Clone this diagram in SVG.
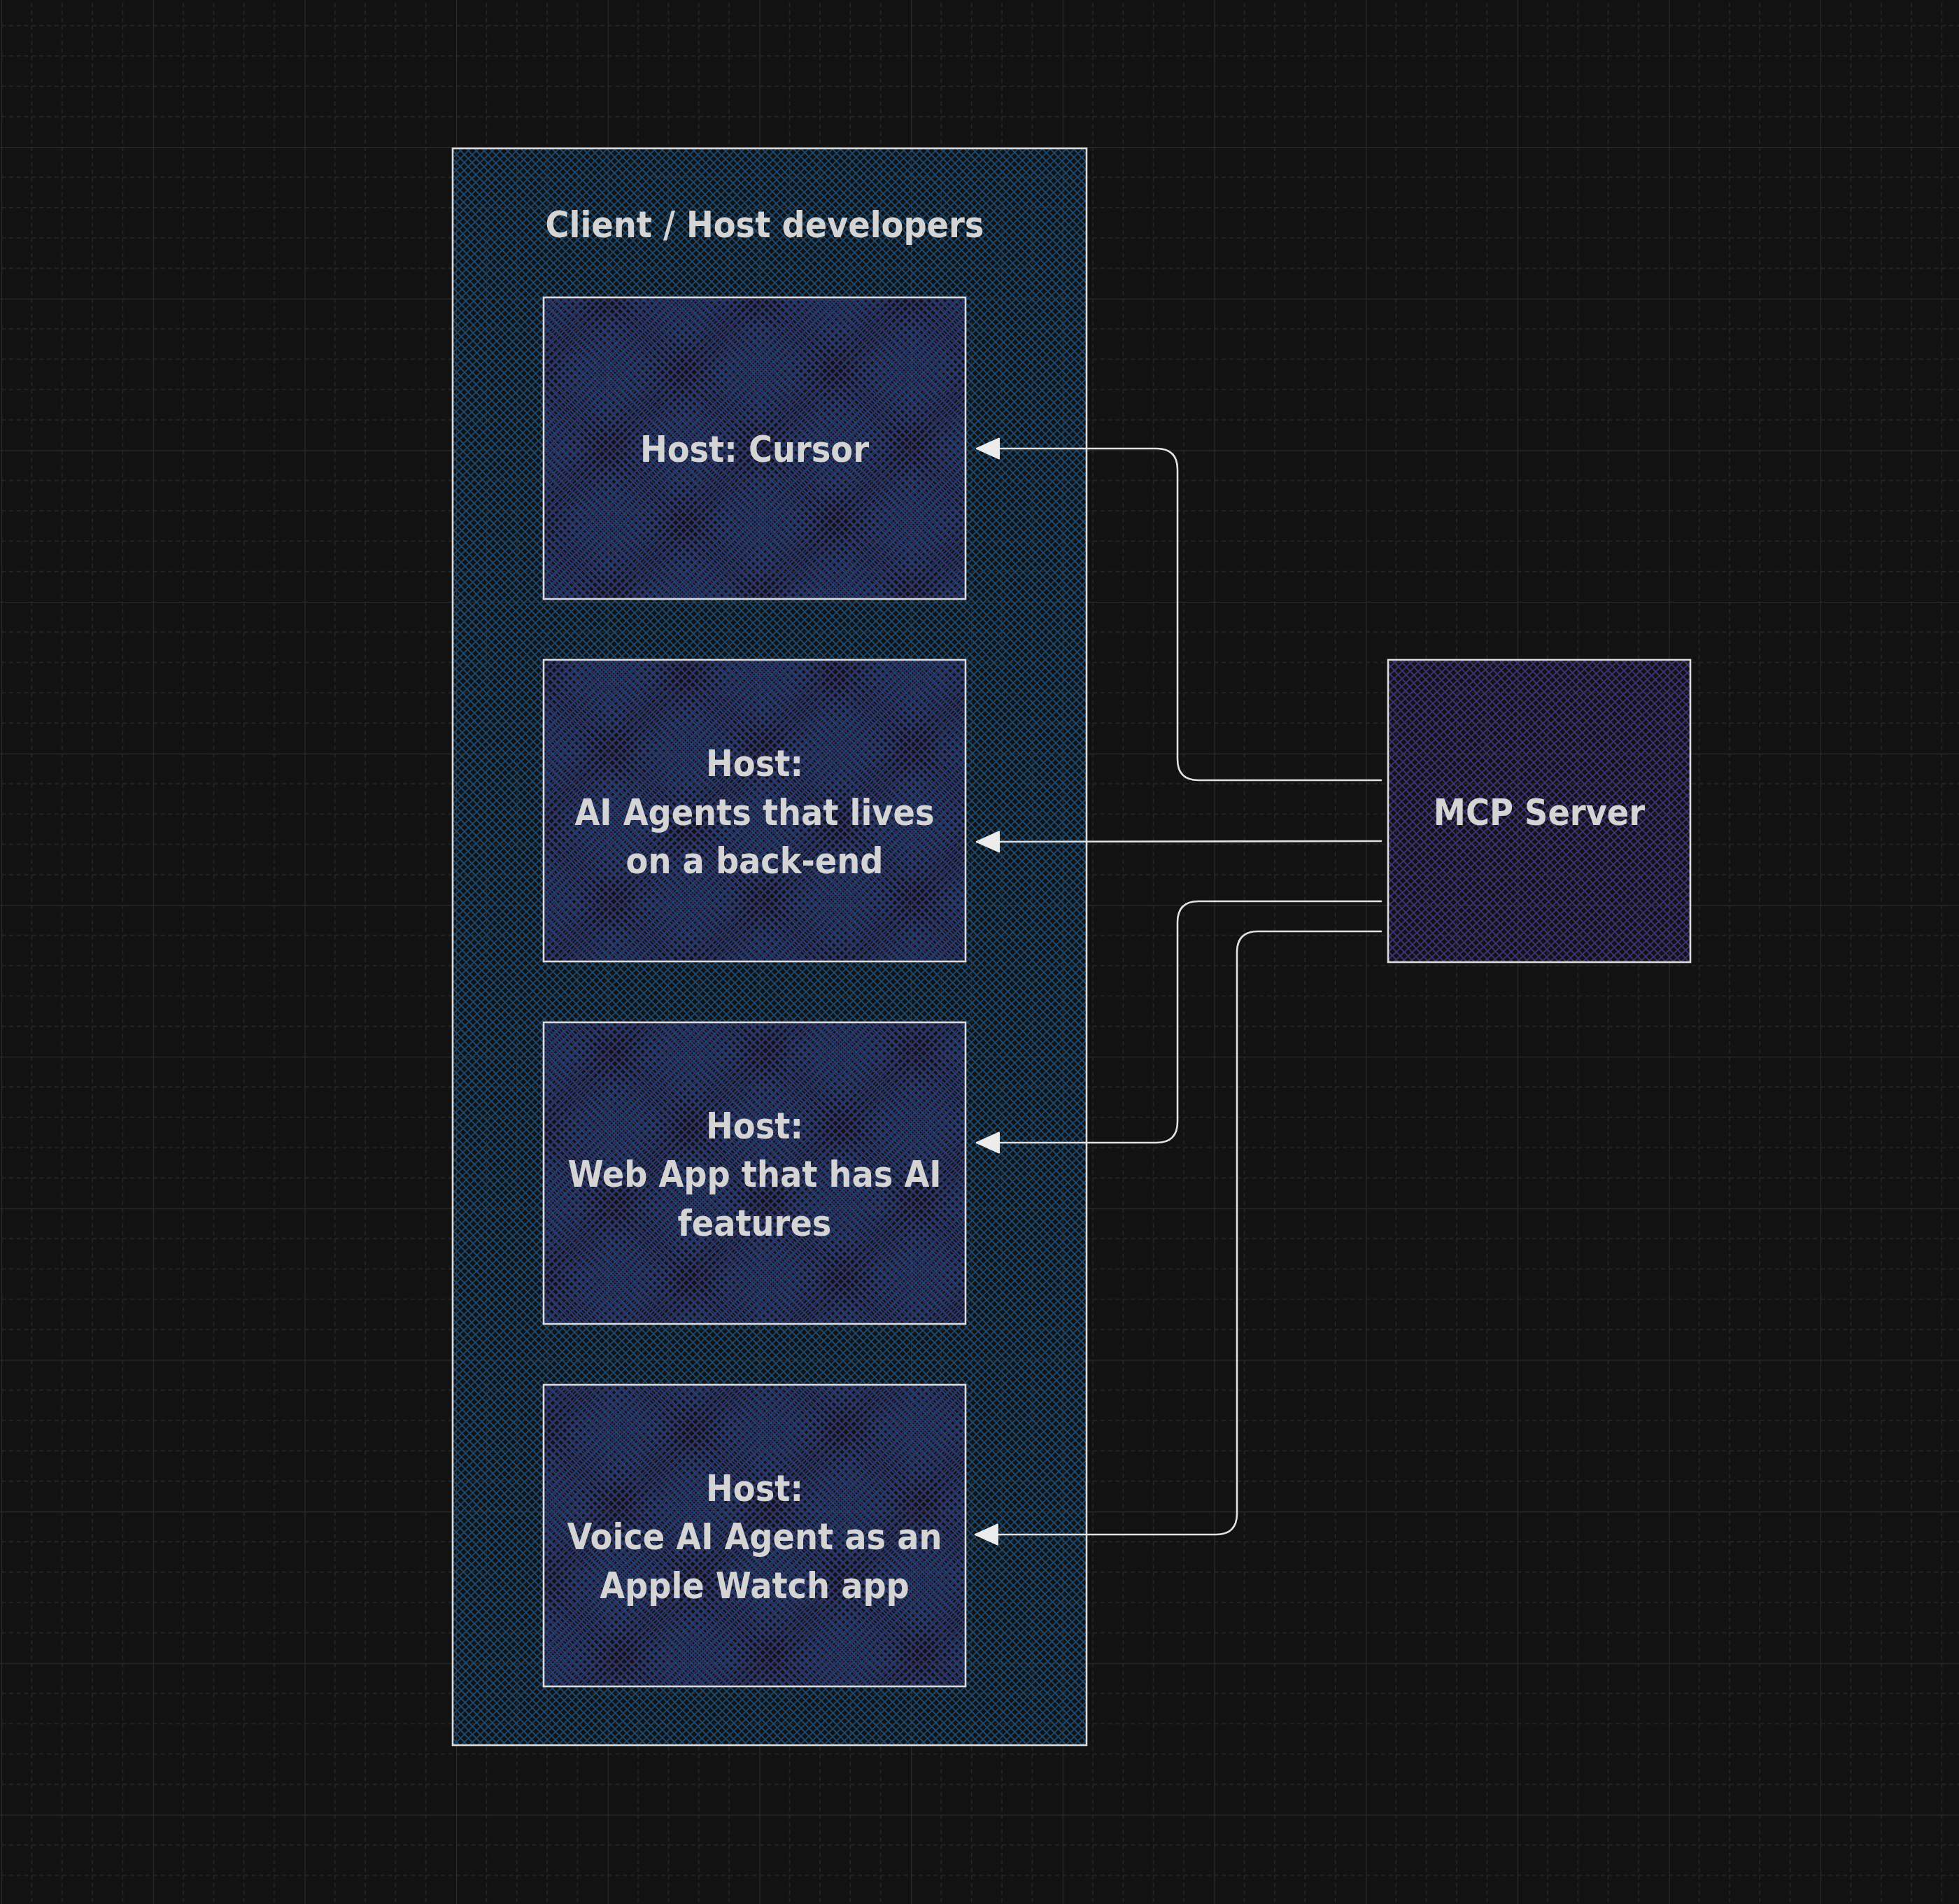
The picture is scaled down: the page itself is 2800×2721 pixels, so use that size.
<svg xmlns="http://www.w3.org/2000/svg" width="2800" height="2721" viewBox="0 0 2800 2721">
  <defs>
    <style>
      .box { stroke: #dcdcdc; stroke-width: 2.6; }
      .lbl { font-family: "DejaVu Sans Condensed", "Liberation Sans", Arial, sans-serif; font-weight: bold; font-size: 51.5px; fill: #d4d4d4; text-anchor: middle; }
      .conn { fill: none; stroke: #e2e2e2; stroke-width: 2.6; stroke-linecap: round; stroke-linejoin: round; }
      .minor { stroke: #272727; stroke-width: 1.6; stroke-dasharray: 6 4.833; }
      .major { stroke: #2b2b2b; stroke-width: 2.4; }
    </style>
    <pattern id="grid" width="216.667" height="216.667" patternUnits="userSpaceOnUse" x="2" y="-6.667">
      <path class="minor" d="M0 43.333 H216.667 M0 86.667 H216.667 M0 130 H216.667 M0 173.333 H216.667"/>
      <path class="minor" d="M43.333 0 V216.667 M86.667 0 V216.667 M130 0 V216.667 M173.333 0 V216.667"/>
      <path class="major" d="M0 0 H216.667 M0 0 V216.667"/>
    </pattern>
    <pattern id="hatchBlue" width="8" height="8" patternUnits="userSpaceOnUse" patternTransform="rotate(46)">
      <path d="M0 4 H8 M4 0 V8" stroke="#1a4a74" stroke-width="1.8"/>
    </pattern>
    <pattern id="hatchPurple" width="8" height="8" patternUnits="userSpaceOnUse" patternTransform="rotate(43)">
      <path d="M0 4 H8 M4 0 V8" stroke="#342e6c" stroke-width="1.8"/>
    </pattern>
    <pattern id="hatchPurple2" width="8" height="8" patternUnits="userSpaceOnUse" patternTransform="rotate(47)">
      <path d="M0 4 H8 M4 0 V8" stroke="#3b3276" stroke-width="2"/>
    </pattern>
    <marker id="arrow" markerUnits="userSpaceOnUse" markerWidth="36" markerHeight="34" viewBox="0 0 36 34" refX="34" refY="17" orient="auto">
      <path d="M2 2.5 L34 17 L2 31.5 Z" fill="#ececec" stroke="#ececec" stroke-width="2" stroke-linejoin="round"/>
    </marker>
  </defs>

  <g id="background">
    <rect x="0" y="0" width="2800" height="2721" fill="#121212"/>
    <rect x="0" y="0" width="2800" height="2721" fill="url(#grid)"/>
  </g>

  <g id="client-host-developers">
    <rect class="box" x="647" y="212" width="906" height="2282" fill="url(#hatchBlue)"/>
    <text class="lbl" x="1093" y="339">Client / Host developers</text>
  </g>

  <g id="host-cursor">
    <rect class="box" x="777" y="425" width="603" height="431" fill="url(#hatchPurple)"/>
    <text class="lbl" x="1078.5" y="660">Host: Cursor</text>
  </g>

  <g id="host-ai-agents">
    <rect class="box" x="777" y="943" width="603" height="431" fill="url(#hatchPurple)"/>
    <text class="lbl" x="1078.5" y="1109">Host:</text>
    <text class="lbl" x="1078.5" y="1179">AI Agents that lives</text>
    <text class="lbl" x="1078.5" y="1248">on a back-end</text>
  </g>

  <g id="host-web-app">
    <rect class="box" x="777" y="1461" width="603" height="431" fill="url(#hatchPurple)"/>
    <text class="lbl" x="1078.5" y="1627">Host:</text>
    <text class="lbl" x="1078.5" y="1696">Web App that has AI</text>
    <text class="lbl" x="1078.5" y="1766">features</text>
  </g>

  <g id="host-voice-agent">
    <rect class="box" x="777" y="1979" width="603" height="431" fill="url(#hatchPurple)"/>
    <text class="lbl" x="1078.5" y="2145">Host:</text>
    <text class="lbl" x="1078.5" y="2214">Voice AI Agent as an</text>
    <text class="lbl" x="1078.5" y="2284">Apple Watch app</text>
  </g>

  <g id="mcp-server">
    <rect class="box" x="1984" y="943" width="432" height="432" fill="url(#hatchPurple2)"/>
    <text class="lbl" x="2200" y="1179">MCP Server</text>
  </g>

  <g id="connectors">
    <path class="conn" marker-end="url(#arrow)" d="M1974 1115 H1713 Q1683 1115 1683 1085 V671 Q1683 641 1653 641 H1396"/>
    <path class="conn" marker-end="url(#arrow)" d="M1974 1202 L1396 1203"/>
    <path class="conn" marker-end="url(#arrow)" d="M1974 1288 H1713 Q1683 1288 1683 1318 V1603 Q1683 1633 1653 1633 H1396"/>
    <path class="conn" marker-end="url(#arrow)" d="M1974 1331 H1798 Q1768 1331 1768 1361 V2163 Q1768 2193 1738 2193 H1394"/>
  </g>
</svg>
